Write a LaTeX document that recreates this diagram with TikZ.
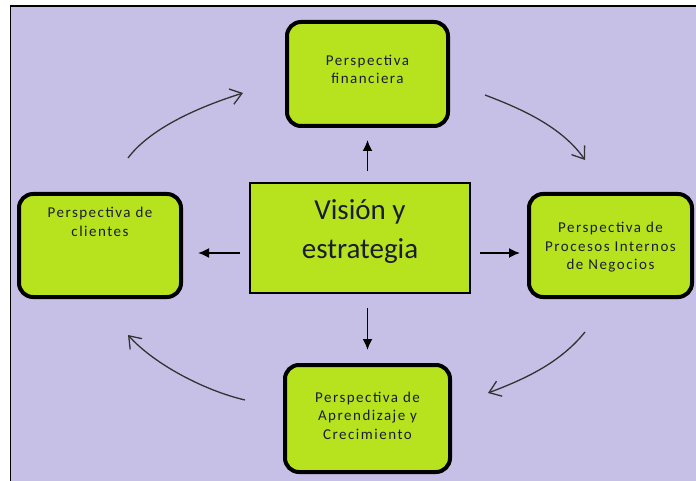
\documentclass[tikz,border=0pt]{standalone}
\usepackage{fontspec}
\setmainfont{Carlito}
\newfontfamily\boxfont[LetterSpace=10]{Carlito}
\usetikzlibrary{arrows.meta,calc}
\definecolor{bgpurple}{HTML}{C7C0E6}
\definecolor{leaf}{HTML}{B6E31E}
\definecolor{inktext}{HTML}{1C1C30}
\definecolor{curveink}{HTML}{333333}
% text block of fixed height, lines hanging from its top
\newcommand\boxtext[2]{\parbox[c][#1][t]{150pt}{\centering #2}}
\begin{document}
\begin{tikzpicture}[x=1pt,y=-1pt,
  persp/.style={draw=black, line width=4pt, rounded corners=14pt, fill=leaf,
    inner sep=0pt, text=inktext, font=\boxfont\fontsize{15}{18.3}\selectfont},
  core/.style={draw=black, line width=1.2pt, fill=leaf, inner sep=0pt,
    minimum width=220pt, minimum height=110pt, text=inktext,
    font=\fontsize{29}{39}\selectfont},
  sarrow/.style={line width=1.7pt, -{Latex[length=11pt,width=10pt]}},
  carrow/.style={line width=1.3pt, draw=curveink, -{Straight Barb[length=11pt,width=16pt]}}
]
\useasboundingbox (0,0) rectangle (696,481);
\fill[white] (0,0) rectangle (696,481);
\filldraw[fill=bgpurple, draw=black, line width=1.5pt] (10.5,6) rectangle (710,495);

% the four perspectives and the central box
\node[persp, minimum width=161pt, minimum height=104pt] (fin) at (367.5,74)
  {\boxtext{38pt}{Perspectiva\\financiera}};
\node[persp, minimum width=162pt, minimum height=103pt] (cli) at (100,245.5)
  {\boxtext{76pt}{Perspectiva de\\clientes}};
\node[persp, minimum width=163pt, minimum height=103pt] (pro) at (610.5,245.5)
  {\boxtext{46pt}{Perspectiva de\\Procesos Internos\\de Negocios}};
\node[persp, minimum width=165pt, minimum height=107pt] (apr) at (367.5,418.5)
  {\boxtext{53pt}{Perspectiva de\\Aprendizaje y\\Crecimiento}};
\node[core] (vis) at (360,238)
  {\parbox[c][76pt][t]{200pt}{\centering Visión y\\estrategia}};

% straight arrows from the centre
\coordinate (mid) at (360,253);
\draw[sarrow, shorten <=11pt, shorten >=12pt] (vis.north -| fin.south) -- (fin.south);
\draw[sarrow, shorten <=14pt, shorten >=13pt] (vis.south -| apr.north) -- (apr.north);
\draw[sarrow, shorten <=9.4pt, shorten >=15pt] (vis.west |- mid) -- (cli.east |- mid);
\draw[sarrow, shorten <=9.4pt, shorten >=7pt] (vis.east |- mid) -- (pro.west |- mid);

% curved arrows of the cycle
\coordinate (tlA) at (128,158);  \coordinate (tlB) at (243,93);
\coordinate (trA) at (485,95);   \coordinate (trB) at (585,160);
\coordinate (brA) at (585,332);  \coordinate (brB) at (488,393);
\coordinate (blA) at (245,400);  \coordinate (blB) at (128,335);
\draw[carrow] (tlA) .. controls (152,126) and (205,105) .. (tlB);
\draw[carrow] (trA) .. controls (522,109) and (562,127) .. (trB);
\draw[carrow] (brA) .. controls (560,363) and (525,379) .. (brB);
\draw[carrow] (blA) .. controls (206,391) and (155,365) .. (blB);
\end{tikzpicture}
\end{document}
